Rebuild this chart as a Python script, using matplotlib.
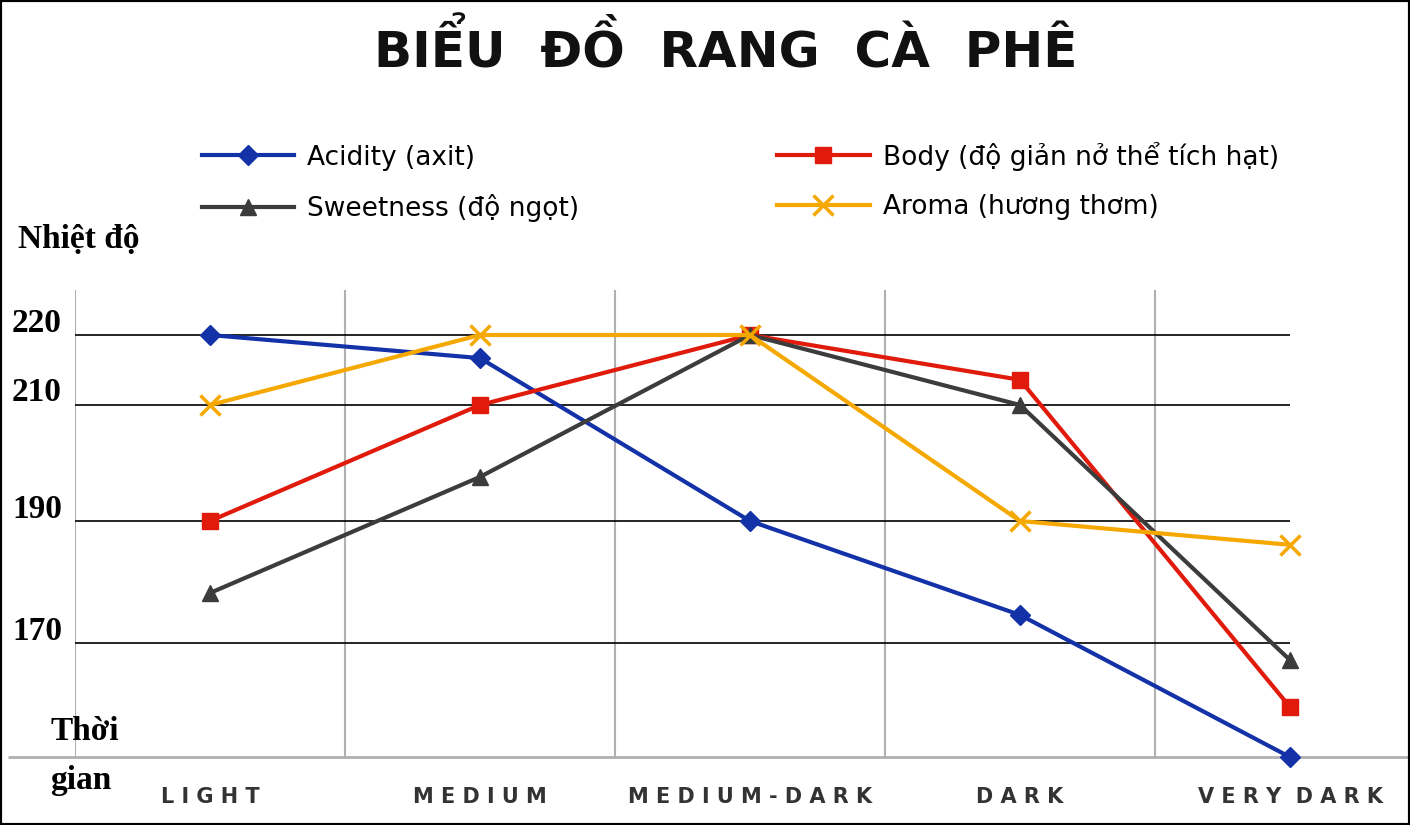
import numpy as np
import matplotlib
matplotlib.use("Agg")
import matplotlib.pyplot as plt
from matplotlib.patches import Rectangle

categories = ["LIGHT", "MEDIUM", "MEDIUM-DARK", "DARK", "VERY DARK"]
acidity = [220, 216.7, 190, 174.6, 151.3]
body = [190, 210, 220, 213.6, 159.5]
sweetness = [178.2, 197.6, 220, 210, 167.2]
aroma = [210, 220, 220, 190, 186.1]
yticks = [170, 190, 210, 220]

# piecewise scale knots (value -> vertical position)
kv = np.array([100, 170, 190, 210, 220, 260])
kp = -np.array([643 + 70 * 6.1, 643, 521, 405, 335, 335 - 40 * 7.0])
fwd = lambda v: np.interp(v, kv, kp)
inv = lambda p: np.interp(p, kp, kv)

fig = plt.figure(figsize=(14.1, 8.25), dpi=100)
ax = fig.add_axes([75/1410, 1-757/825, 1335/1410, (757-290)/825])
ax.set_yscale('function', functions=(fwd, inv))
ax.set_xlim(-0.5, -0.5 + 1335/270)
ax.set_ylim(inv(-757), inv(-290))

x = np.arange(len(categories))
for xv in np.arange(-0.5, 4.6, 1):
    ax.axvline(xv, color="#b0b0b0", lw=1.5, zorder=0)
for yv in yticks:
    ax.hlines(yv, -0.5, 4, color="black", lw=1.2, zorder=1)
ax.hlines(inv(-757), -0.75, 4.444, color="#b0b0b0", lw=2, zorder=1, clip_on=False)

series = [
    ("Acidity (axit)", acidity, "#1432a8", "D", 10),
    ("Body (độ giản nở thể tích hạt)", body, "#e01b0c", "s", 12),
    ("Sweetness (độ ngọt)", sweetness, "#3c3c3c", "^", 12),
    ("Aroma (hương thơm)", aroma, "#f5a800", "x", 14),
]
handles = []
for name, vals, c, m, ms in series:
    h, = ax.plot(x, vals, color=c, marker=m, ms=ms, lw=3, mew=2.5 if m == "x" else 1, label=name, clip_on=False, zorder=3)
    handles.append(h)

for s in ax.spines.values():
    s.set_visible(False)
ax.set_xticks([]); ax.set_yticks([])

for i, c in enumerate(categories):
    fig.text((75 + (i + 0.5) * 270) / 1410, 1 - 797/825, " ".join(c).replace("   ", "  "),
             ha="center", va="center", fontsize=15, fontweight="bold", color="#333333")
for yv in yticks:
    fig.text(12/1410, 1 - (-fwd(yv) - 12)/825, str(yv), fontsize=24, fontweight="bold",
             family="Liberation Serif", va="center")
fig.text(18/1410, 1 - 240/825, "Nhiệt độ", fontsize=24, fontweight="bold", family="Liberation Serif", va="center")
fig.text(50/1410, 1 - 732/825, "Thời", fontsize=24, fontweight="bold", family="Liberation Serif", va="center")
fig.text(50/1410, 1 - 780/825, "gian", fontsize=24, fontweight="bold", family="Liberation Serif", va="center")
fig.text(0.515, 1 - 50/825, "BIỂU  ĐỒ  RANG  CÀ  PHÊ", ha="center", va="center",
         fontsize=36, fontweight="bold", color="#111111")

fig.legend(handles=[handles[0], handles[2], handles[1], handles[3]],
           labels=[series[0][0], series[2][0], series[1][0], series[3][0]],
           ncol=2, loc="center", bbox_to_anchor=(0.525, 1 - 182/825), frameon=False,
           fontsize=19, handlelength=3.5, handletextpad=0.5, columnspacing=7.5, labelspacing=0.9)
fig.add_artist(Rectangle((0, 0), 1, 1, transform=fig.transFigure, fill=False, ec="black", lw=3))
fig.savefig("out.png", dpi=100)
